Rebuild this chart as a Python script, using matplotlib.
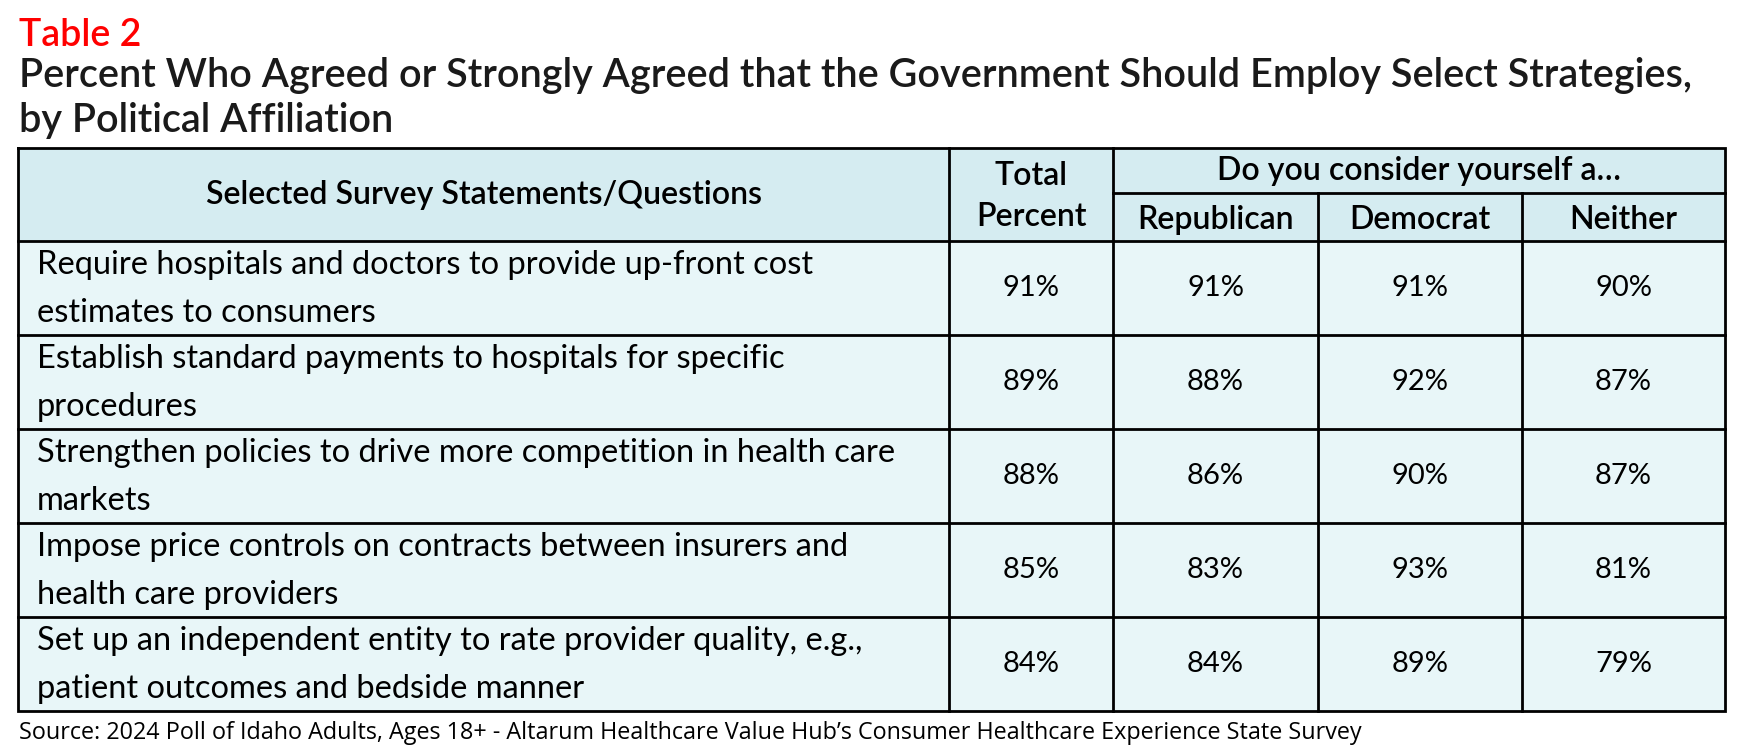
import matplotlib as mpl
mpl.use('Agg')
from matplotlib import pyplot as plt
from matplotlib.patches import Rectangle

# Table content
statements = [
    'Require hospitals and doctors to provide up-front cost\nestimates to consumers',
    'Establish standard payments to hospitals for specific\nprocedures',
    'Strengthen policies to drive more competition in health care\nmarkets',
    'Impose price controls on contracts between insurers and\nhealth care providers',
    'Set up an independent entity to rate provider quality, e.g.,\npatient outcomes and bedside manner',
]
totalPct = [91, 89, 88, 85, 84]
republican = [91, 88, 86, 83, 84]
democrat = [91, 92, 90, 93, 89]
neither = [90, 87, 87, 81, 79]

groupLabels = ['Republican', 'Democrat', 'Neither']

title = 'Table 2'
subtitle = ('Percent Who Agreed or Strongly Agreed that the Government Should Employ Select Strategies,\n'
            'by Political Affiliation')
source = ("Source: 2024 Poll of Idaho Adults, Ages 18+ - Altarum Healthcare Value Hub\u2019s "
          "Consumer Healthcare Experience State Survey")

W, H = 1744, 750
fig = plt.figure(figsize=(W / 100, H / 100), dpi=100)
ax = fig.add_axes([0, 0, 1, 1])
ax.set_xlim(0, W)
ax.set_ylim(H, 0)
ax.axis('off')

font = 'Lato'
headBg = '#d5ecf1'
bodyBg = '#e8f6f8'

# layout (pixels)
colX = [18, 949, 1113, 1318, 1522, 1725]
yTop, ySub, yHead = 148, 193, 241
rowH = (711 - yHead) / len(statements)

# backgrounds
ax.add_patch(Rectangle((colX[0], yTop), colX[-1] - colX[0], yHead - yTop, fc=headBg, ec='none'))
ax.add_patch(Rectangle((colX[0], yHead), colX[-1] - colX[0], rowH * len(statements), fc=bodyBg, ec='none'))

lw = 2.0
yBot = yHead + rowH * len(statements)
ax.plot([colX[0], colX[-1], colX[-1], colX[0], colX[0]],
        [yTop, yTop, yBot, yBot, yTop],
        color='black', lw=lw, solid_joinstyle='miter')
ax.plot([colX[2], colX[-1]], [ySub, ySub], color='black', lw=lw)
for i in range(len(statements)):
    y = yHead + rowH * i
    ax.plot([colX[0], colX[-1]], [y, y], color='black', lw=lw)
for x in colX[1:3]:
    ax.plot([x, x], [yTop, yBot], color='black', lw=lw)
for x in colX[3:5]:
    ax.plot([x, x], [ySub, yBot], color='black', lw=lw)

# titles
ax.text(19, 36, title, color='#ff0000', fontsize=27, family=font, weight='semibold', va='center', ha='left')
ax.text(19, 98, subtitle, color='#1a1a1a', fontsize=28.5, family=font, weight='semibold', va='center', ha='left',
        linespacing=1.27)

# header text
hfs = 23
ax.text((colX[0] + colX[1]) / 2, (yTop + yHead) / 2, 'Selected Survey Statements/Questions',
        fontsize=hfs, family=font, weight='semibold', ha='center', va='center')
ax.text((colX[1] + colX[2]) / 2, (yTop + yHead) / 2 + 2, 'Total\nPercent',
        fontsize=hfs, family=font, weight='semibold', ha='center', va='center', linespacing=1.45)
ax.text((colX[2] + colX[-1]) / 2, (yTop + ySub) / 2, 'Do you consider yourself a\u2026',
        fontsize=hfs, family=font, weight='semibold', ha='center', va='center')
for j, lab in enumerate(groupLabels):
    ax.text((colX[2 + j] + colX[3 + j]) / 2, (ySub + yHead) / 2 + 3, lab,
            fontsize=hfs, family=font, weight='semibold', ha='center', va='center')

# body
bfs = 23.5
cols = [totalPct, republican, democrat, neither]
for i, s in enumerate(statements):
    yc = yHead + rowH * (i + 0.5)
    ax.text(37, yc + 1, s, fontsize=bfs, family=font, ha='left', va='center', linespacing=1.72)
    for j, vals in enumerate(cols):
        ax.text((colX[1 + j] + colX[2 + j]) / 2, yc, f'{vals[i]}%',
                fontsize=21, family=font, ha='center', va='center')

ax.text(19, 733, source, fontsize=16.8, family='Open Sans', ha='left', va='center')

fig.savefig('out.png', dpi=100)
